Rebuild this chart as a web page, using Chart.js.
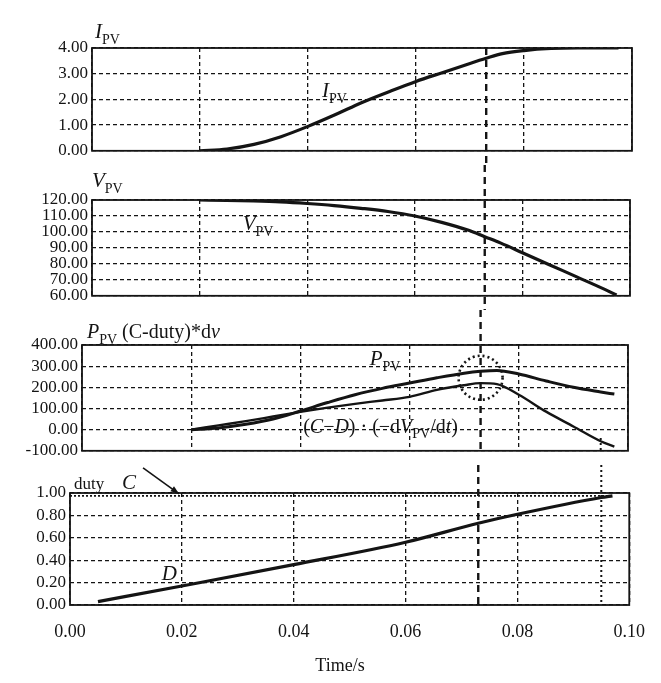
<!DOCTYPE html>
<html>
<head>
<meta charset="utf-8">
<script src="https://cdn.jsdelivr.net/npm/chart.js@4"></script>
<style>
body { margin: 0; background: #fff; width: 661px; height: 683px; position: relative; overflow: hidden; }
canvas { position: absolute; left: 0; }
</style>
</head>
<body>
<canvas id="c1" width="661" height="165" style="top:0"></canvas>
<canvas id="c2" width="661" height="145" style="top:165px"></canvas>
<canvas id="c3" width="661" height="155" style="top:310px"></canvas>
<canvas id="c4" width="661" height="218" style="top:465px"></canvas>
<script>
// simulation time (s) for the PV traces
var timeS = [0.02, 0.025, 0.03, 0.035, 0.04, 0.045, 0.05, 0.055, 0.06, 0.065, 0.07, 0.073, 0.076, 0.08, 0.085, 0.09, 0.095, 0.0975];
var iPv = [0, 0.07, 0.25, 0.55, 0.95, 1.4, 1.88, 2.3, 2.7, 3.05, 3.4, 3.6, 3.78, 3.9, 3.98, 4.0, 4.0, 4.0];
var vPv = [120, 119.8, 119.4, 118.8, 117.8, 116.5, 114.8, 112.8, 110, 106, 101, 97, 93, 87, 79.5, 72, 64.5, 60.5];
var pPv = [0, 8, 25, 50, 88, 128, 165, 195, 220, 245, 267, 276, 280, 263, 230, 200, 178, 168];
var cdDv = [0, 20, 40, 62, 84, 104, 122, 138, 155, 188, 210, 220, 215, 165, 85, 15, -55, -80];

var dutyTime = [0.005, 0.02, 0.04, 0.06, 0.073, 0.08, 0.095, 0.097];
var dutyD = [0.03, 0.17, 0.36, 0.56, 0.73, 0.81, 0.96, 0.975];
var limitTime = [0, 0.097];
var dutyC = [0.975, 0.975];

var mppTime = 0.073;     // long dashed marker
var limitHit = 0.095;    // dotted marker where D reaches C

var xTicks = [0, 0.02, 0.04, 0.06, 0.08, 0.1];
var iTicks = [0, 1, 2, 3, 4];
var vTicks = [60, 70, 80, 90, 100, 110, 120];
var pTicks = [-100, 0, 100, 200, 300, 400];
var dTicks = [0, 0.2, 0.4, 0.6, 0.8, 1.0];

var INK = "#141414";
var SERIF = "'Liberation Serif', 'DejaVu Serif', serif";

function pts(xs, ys) {
    return xs.map(function (x, i) { return { x: x, y: ys[i] }; });
}

function line(data, width, dash) {
    return {
        data: data,
        borderColor: INK,
        borderWidth: width,
        borderDash: dash || [],
        pointRadius: 0,
        fill: false,
        cubicInterpolationMode: "monotone"
    };
}

// draws text pieces: [text, style] with style "" upright, "i" italic, "s" subscript
function rich(ctx, x, y, parts, size) {
    ctx.save();
    ctx.fillStyle = INK;
    ctx.textBaseline = "alphabetic";
    ctx.textAlign = "left";
    parts.forEach(function (p) {
        var sz = p[1] === "s" ? Math.round(size * 0.68) : size;
        var dy = p[1] === "s" ? size * 0.28 : 0;
        ctx.font = (p[1] === "i" ? "italic " : "") + sz + "px " + SERIF;
        ctx.fillText(p[0], x, y + dy);
        x += ctx.measureText(p[0]).width;
    });
    ctx.restore();
}

function vline(ctx, x, y0, y1, width, dash) {
    ctx.save();
    ctx.strokeStyle = INK;
    ctx.lineWidth = width;
    ctx.setLineDash(dash);
    ctx.beginPath();
    ctx.moveTo(x, y0);
    ctx.lineTo(x, y1);
    ctx.stroke();
    ctx.restore();
}

function panel(id, box, yMin, yMax, yTicks, datasets, showX, draw) {
    var cv = document.getElementById(id);
    return new Chart(cv.getContext("2d"), {
        type: "line",
        data: { datasets: datasets },
        options: {
            responsive: false,
            animation: false,
            events: [],
            layout: {
                padding: { left: 0, right: 661 - box.right, top: box.top, bottom: showX ? 0 : cv.height - box.bottom }
            },
            plugins: { legend: { display: false }, tooltip: { enabled: false } },
            scales: {
                x: {
                    type: "linear",
                    min: 0,
                    max: 0.1,
                    afterBuildTicks: function (s) { s.ticks = xTicks.map(function (v) { return { value: v }; }); },
                    afterFit: function (s) { s.height = showX ? cv.height - box.bottom : 0; },
                    grid: { color: INK, lineWidth: 1.3, drawTicks: false },
                    border: { display: false, dash: [4, 3] },
                    ticks: {
                        display: showX,
                        autoSkip: false,
                        padding: 16,
                        color: INK,
                        font: { family: SERIF, size: 18 },
                        maxRotation: 0,
                        callback: function (v) { return v.toFixed(2); }
                    }
                },
                y: {
                    min: yMin,
                    max: yMax,
                    afterBuildTicks: function (s) { s.ticks = yTicks.map(function (v) { return { value: v }; }); },
                    afterFit: function (s) { s.width = box.left; },
                    grid: { color: INK, lineWidth: 1.3, drawTicks: false },
                    border: { display: false, dash: [4, 3] },
                    ticks: {
                        autoSkip: false,
                        padding: 4,
                        color: INK,
                        font: { family: SERIF, size: 17 },
                        callback: function (v) { return v.toFixed(2); }
                    }
                }
            }
        },
        plugins: [{
            id: "frame",
            afterDraw: function (chart) {
                var a = chart.chartArea, ctx = chart.ctx;
                ctx.save();
                ctx.strokeStyle = INK;
                ctx.lineWidth = 1.8;
                ctx.strokeRect(a.left, a.top, a.right - a.left, a.bottom - a.top);
                ctx.restore();
                draw(chart, ctx, chart.scales.x, chart.scales.y, a);
            }
        }]
    });
}

panel("c1", { left: 92, right: 632, top: 48, bottom: 157 }, 0, 4, iTicks,
    [line(pts(timeS, iPv), 3.2)], false,
    function (chart, ctx, x, y, a) {
        rich(ctx, 95, 38, [["I", "i"], ["PV", "s"]], 21);
        rich(ctx, x.getPixelForValue(0.0426), y.getPixelForValue(2.1), [["I", "i"], ["PV", "s"]], 21);
        vline(ctx, x.getPixelForValue(mppTime), a.top, chart.height, 2.4, [7, 5]);
    });

panel("c2", { left: 92, right: 630, top: 35, bottom: 135 }, 60, 120, vTicks,
    [line(pts(timeS, vPv), 3.2)], false,
    function (chart, ctx, x, y, a) {
        rich(ctx, 92, 22, [["V", "i"], ["PV", "s"]], 21);
        rich(ctx, x.getPixelForValue(0.028), y.getPixelForValue(101), [["V", "i"], ["PV", "s"]], 21);
        vline(ctx, x.getPixelForValue(mppTime), 0, chart.height, 2.4, [7, 5]);
    });

panel("c3", { left: 82, right: 628, top: 35, bottom: 150 }, -100, 400, pTicks,
    [line(pts(timeS, pPv), 3.0), line(pts(timeS, cdDv), 2.4)], false,
    function (chart, ctx, x, y, a) {
        rich(ctx, 87, 28, [["P", "i"], ["PV", "s"], [" (C-duty)*d", ""], ["v", "i"]], 20);
        rich(ctx, x.getPixelForValue(0.0527), y.getPixelForValue(304), [["P", "i"], ["PV", "s"]], 21);
        rich(ctx, x.getPixelForValue(0.0405), y.getPixelForValue(-15),
            [["(", ""], ["C", "i"], ["\u2212", ""], ["D", "i"], [") \u00b7 (\u2212d", ""], ["V", "i"], ["PV", "s"], ["/d", ""], ["t", "i"], [")", ""]], 20);
        vline(ctx, x.getPixelForValue(mppTime), 0, a.bottom, 2.4, [7, 5]);
        vline(ctx, x.getPixelForValue(limitHit), y.getPixelForValue(-40), a.bottom, 2, [2, 3]);
        ctx.save();
        ctx.strokeStyle = INK;
        ctx.lineWidth = 2.6;
        ctx.setLineDash([2, 3]);
        ctx.beginPath();
        ctx.arc(x.getPixelForValue(mppTime), y.getPixelForValue(245), 22, 0, Math.PI * 2);
        ctx.stroke();
        ctx.restore();
    });

panel("c4", { left: 70, right: 630, top: 28, bottom: 140 }, 0, 1, dTicks,
    [line(pts(dutyTime, dutyD), 3.2), line(pts(limitTime, dutyC), 1.8, [2, 2])], true,
    function (chart, ctx, x, y, a) {
        rich(ctx, 74, 24, [["duty", ""]], 17);
        rich(ctx, 122, 24, [["C", "i"]], 21);
        rich(ctx, x.getPixelForValue(0.0164), y.getPixelForValue(0.22), [["D", "i"]], 21);
        vline(ctx, x.getPixelForValue(mppTime), 0, a.bottom, 2.4, [7, 5]);
        vline(ctx, x.getPixelForValue(limitHit), 0, a.bottom, 2, [2, 3]);
        // arrow from the C label to the limit line
        var tx = x.getPixelForValue(0.0195), ty = y.getPixelForValue(0.975) - 2;
        var sx = tx - 36, sy = ty - 26;
        var ang = Math.atan2(ty - sy, tx - sx);
        ctx.save();
        ctx.strokeStyle = INK;
        ctx.fillStyle = INK;
        ctx.lineWidth = 1.6;
        ctx.beginPath();
        ctx.moveTo(sx, sy);
        ctx.lineTo(tx, ty);
        ctx.stroke();
        ctx.beginPath();
        ctx.moveTo(tx, ty);
        ctx.lineTo(tx - 9 * Math.cos(ang - 0.35), ty - 9 * Math.sin(ang - 0.35));
        ctx.lineTo(tx - 9 * Math.cos(ang + 0.35), ty - 9 * Math.sin(ang + 0.35));
        ctx.closePath();
        ctx.fill();
        ctx.font = "18px " + SERIF;
        ctx.textAlign = "center";
        ctx.textBaseline = "alphabetic";
        ctx.fillText("Time/s", 340, 206);
        ctx.restore();
    });
</script>
</body>
</html>
